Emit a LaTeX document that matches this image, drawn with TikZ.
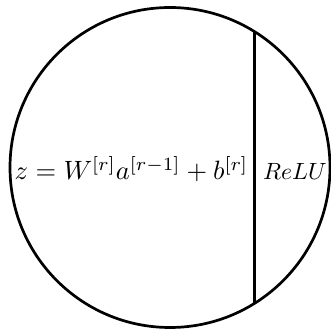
\documentclass[tikz,border=0pt]{standalone}
\usepackage{amsmath}
\usepackage{graphicx}
\tikzset{
  cell/.style={draw, circle, line width=2.7pt, inner sep=0pt, outer sep=0pt, minimum size=320pt},
  divider/.style={line width=2.7pt},
  lbl/.style={anchor=base, inner sep=0pt}
}
\newcommand{\bigtext}[2]{\scalebox{#1}{$#2$}}
\begin{document}
\begin{tikzpicture}[x=1pt,y=1pt]
\useasboundingbox (0,0) rectangle (331,329);
\node[cell] (c) at (170,161.5) {};
\draw[divider] (c.58.3) -- (c.-58.3);
\node[lbl] (f) at (131.5,149) {\bigtext{2.65}{z = W^{[r]}a^{[r-1]} + b^{[r]}}};
\node[lbl] (r) at (295,149) {\bigtext{2.35}{ReLU}};
\end{tikzpicture}
\end{document}
